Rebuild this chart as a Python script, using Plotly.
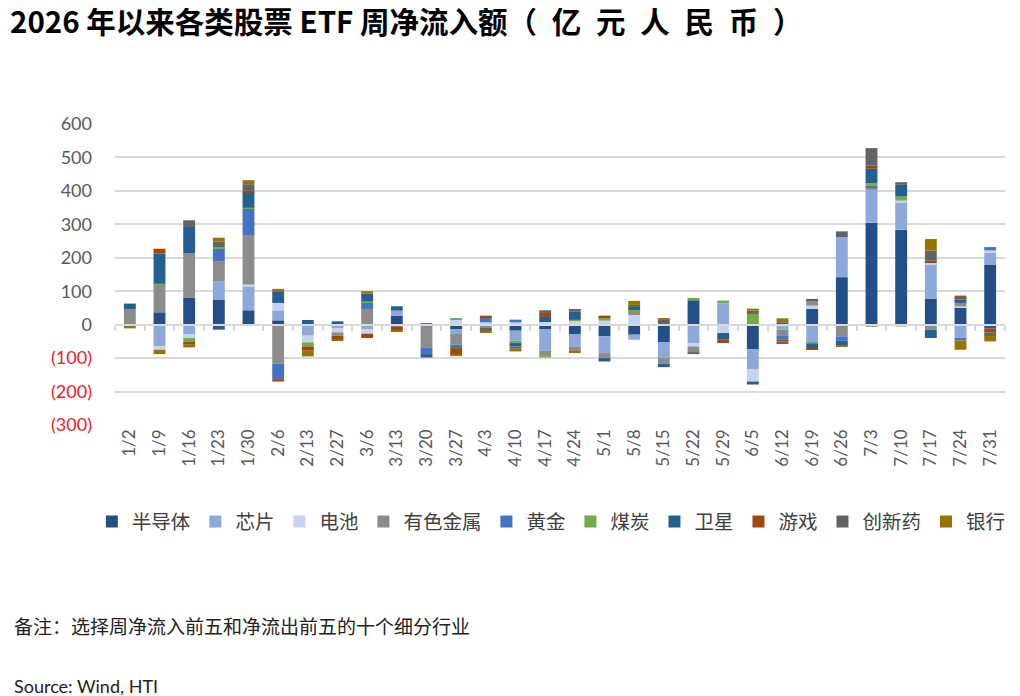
import plotly.graph_objects as go

weeks = ["1/2", "1/9", "1/16", "1/23", "1/30", "2/6", "2/13", "2/27", "3/6", "3/13",
         "3/20", "3/27", "4/3", "4/10", "4/17", "4/24", "5/1", "5/8", "5/15", "5/22",
         "5/29", "6/5", "6/12", "6/19", "6/26", "7/3", "7/10", "7/17", "7/24", "7/31"]

# 周净流入额, 亿元人民币
semis = [0, 37, 80, 75, 43, 13, 0, 0, 0, 27,
         0, -13, 0, -18, -13, -28, -35, -30, -53, 73,
         0, -73, -5, 47, 142, 305, 284, 78, 52, 180]
chips = [-3, -65, -28, 55, 72, 30, -33, -10, -13, 15,
         0, -15, 0, -30, -65, -37, -50, -15, -47, -55,
         64, -60, -10, -52, 120, 98, 82, 103, -40, 35]
battery = [0, -10, -12, 0, 5, 22, -20, -13, -14, 0,
           0, 15, 7, 7, 8, 12, 12, 29, 0, -10,
           -25, -37, 0, 10, 0, 0, 5, 5, 3, 7]
metals = [47, 83, 133, 60, 148, -117, 0, -10, 47, 0,
          -68, -32, 0, 0, -13, -15, -15, 12, -17, -17,
          0, 0, -17, 15, -35, 7, 0, -15, 10, 0]
gold = [0, 0, 0, 38, 78, -46, 0, 0, 20, 0,
        -20, -10, 13, 8, 0, 0, 0, 0, 0, 0,
        0, 0, -12, 0, -12, 5, 0, 0, -7, 10]
coal = [0, 3, -12, 4, 4, 0, -12, 0, 3, -5,
        0, 5, -8, -7, -7, 3, 10, 3, 0, 7,
        8, 32, 0, -5, 0, 8, 12, 0, 0, -4]
satellite = [16, 90, 79, -15, 46, 35, 14, 10, 23, 13,
             -10, 0, 0, -10, 15, 25, -10, 10, -10, 0,
             -20, -9, 7, -13, -15, 43, 35, -25, 10, -8]
games = [0, 14, -8, 0, 4, -7, -13, -10, -13, -12,
         0, -20, 7, 0, 12, 0, 5, 0, 0, 0,
         -10, 0, -6, -5, 0, 10, 0, 5, 7, -12]
pharma = [0, 0, 20, 16, 20, 0, 0, 0, 0, 0,
          0, 0, -12, -7, 8, 7, 0, 5, 14, -6,
          0, 10, -8, 5, 17, 52, 8, 30, 5, -10]
banks = [-8, -13, -8, 12, 12, 7, -17, -5, 7, -4,
         4, -4, -5, -8, 0, -3, 0, 12, 4, 0,
         0, 6, 12, 0, -3, -6, -5, 35, -28, -16]

series = [
    ("半导体", semis, "#234F86"),
    ("芯片", chips, "#8DA9DB"),
    ("电池", battery, "#C5D4EE"),
    ("有色金属", metals, "#8C8C8C"),
    ("黄金", gold, "#4472C4"),
    ("煤炭", coal, "#70AD47"),
    ("卫星", satellite, "#255E91"),
    ("游戏", games, "#9E480E"),
    ("创新药", pharma, "#636363"),
    ("银行", banks, "#997300"),
]

yticks = [-300, -200, -100, 0, 100, 200, 300, 400, 500, 600]
ytext = [f'<span style="color:#E8232A">({-v})</span>' if v < 0 else str(v) for v in yticks]

grid = "#D9D9D9"
cjk = "Noto Sans CJK SC"
sp = "\u2002"
title = "<b>2026 年以来各类股票 ETF 周净流入额（" + sp + sp.join("亿元人民币") + sp + "）</b>"

# page body has an 8px margin, so the figure is 8px smaller each way
W, H = 1012, 688

fig = go.Figure()

for name, vals, color in series:
    fig.add_trace(go.Bar(x=weeks, y=vals, name=name, marker=dict(color=color, line=dict(width=0))))

# helper trace so the zero-line axis (with boundary ticks) is drawn
fig.add_trace(go.Scatter(x=weeks, y=[0] * len(weeks), xaxis="x2", mode="markers",
                         marker=dict(opacity=0), showlegend=False, hoverinfo="skip"))

fig.update_layout(
    width=W, height=H,
    margin=dict(l=107, r=15, t=116, b=271),
    paper_bgcolor="white", plot_bgcolor="white",
    barmode="relative", bargap=0.6,
    title=dict(text=title, x=2 / W, xanchor="left", xref="container",
               y=1 - 15 / H, yanchor="middle", yref="container",
               font=dict(family=cjk, size=29.5, color="black")),
    xaxis=dict(range=[-0.5, 29.5], showgrid=False, showline=False, ticks="",
               tickangle=-90, tickfont=dict(family="Lato", size=17, color="#595959")),
    xaxis2=dict(overlaying="x", anchor="free", position=1 / 3, range=[-0.5, 29.5],
                showline=True, linecolor=grid, linewidth=1.5, showgrid=False,
                ticks="outside", tickson="boundaries", ticklen=6, tickcolor=grid, tickwidth=1.5,
                showticklabels=False),
    yaxis=dict(range=[-300, 600], tickvals=yticks, ticktext=ytext, showgrid=True,
               gridcolor=grid, gridwidth=1.5, zeroline=False, showline=False,
               ticklabelstandoff=22,
               tickfont=dict(family="Lato", size=18, color="#595959")),
    legend=dict(orientation="h", x=-0.026, xanchor="left", y=-0.322, yanchor="middle",
                font=dict(family=cjk, size=19.5, color="#404040"), itemclick=False,
                tracegroupgap=0),
    annotations=[
        dict(text="备注：选择周净流入前五和净流出前五的十个细分行业", xref="paper", yref="paper",
             x=(4 - 107) / 890, y=(417 - 617) / 301, xanchor="left", yanchor="middle",
             showarrow=False, font=dict(family=cjk, size=19, color="#222222")),
        dict(text="Source: Wind, HTI", xref="paper", yref="paper",
             x=(4 - 107) / 890, y=(417 - 678) / 301, xanchor="left", yanchor="middle",
             showarrow=False, font=dict(family="Lato", size=18, color="#222222")),
    ],
)

fig.write_html("out.html")
